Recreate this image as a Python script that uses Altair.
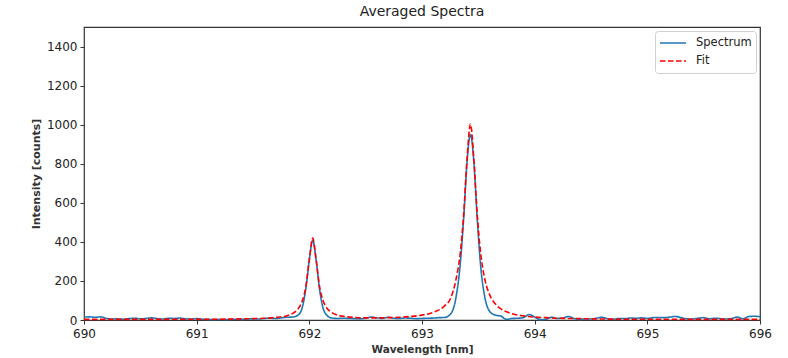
import altair as alt
import pandas as pd

# ---- data ----
spec_wl = [
    690.00, 690.05, 690.10, 690.15, 690.20, 690.25, 690.30, 690.35, 690.40, 690.45,
    690.50, 690.55, 690.60, 690.65, 690.70, 690.75, 690.80, 690.85, 690.90, 690.95,
    691.00, 691.05, 691.10, 691.15, 691.20, 691.25, 691.30, 691.35, 691.40, 691.45,
    691.50, 691.55, 691.60, 691.65, 691.70, 691.75, 691.80, 691.85, 691.90, 691.94,
    691.97, 692.00, 692.03, 692.06, 692.09, 692.12, 692.16, 692.20, 692.25, 692.30,
    692.35, 692.40, 692.45, 692.50, 692.55, 692.60, 692.65, 692.70, 692.75, 692.80,
    692.85, 692.90, 692.95, 693.00, 693.05, 693.10, 693.15, 693.20, 693.25, 693.30,
    693.34, 693.37, 693.40, 693.43, 693.46, 693.49, 693.52, 693.56, 693.60, 693.65,
    693.70, 693.75, 693.80, 693.85, 693.90, 693.95, 694.00, 694.05, 694.10, 694.15,
    694.20, 694.25, 694.30, 694.35, 694.40, 694.45, 694.50, 694.55, 694.60, 694.65,
    694.70, 694.75, 694.80, 694.85, 694.90, 694.95, 695.00, 695.05, 695.10, 695.15,
    695.20, 695.25, 695.30, 695.35, 695.40, 695.45, 695.50, 695.55, 695.60, 695.65,
    695.70, 695.75, 695.80, 695.85, 695.90, 695.95, 696.00,
]
spec_counts = [
    15, 16, 14, 16, 8, 5, 6, 4, 7, 9,
    6, 8, 11, 7, 5, 9, 8, 10, 6, 5,
    7, 4, 3, 2, 3, 2, 3, 4, 3, 5,
    6, 5, 8, 9, 8, 11, 14, 15, 25, 70,
    165, 310, 408, 310, 160, 65, 22, 10, 8, 9,
    8, 7, 6, 9, 15, 11, 8, 14, 9, 8,
    10, 9, 7, 8, 9, 10, 12, 13, 28, 110,
    290, 520, 810, 950, 810, 520, 280, 110, 45, 25,
    20, 3, 8, 9, 12, 28, 15, 2, 4, 14,
    8, 10, 18, 7, 3, 6, 5, 9, 14, 6,
    4, 8, 7, 10, 9, 11, 8, 12, 13, 12,
    15, 18, 12, 6, 5, 9, 12, 6, 9, 7,
    5, 8, 15, 6, 18, 19, 17,
]

fit_wl = [
    690.0, 690.5, 691.0, 691.2, 691.4, 691.5, 691.6, 691.7, 691.8, 691.85,
    691.9, 691.94, 691.97, 692.0, 692.03, 692.06, 692.09, 692.12, 692.16, 692.2,
    692.25, 692.3, 692.4, 692.5, 692.6, 692.7, 692.8, 692.9, 693.0, 693.1,
    693.2, 693.25, 693.3, 693.34, 693.37, 693.4, 693.43, 693.46, 693.49, 693.52,
    693.56, 693.6, 693.65, 693.7, 693.75, 693.8, 693.9, 694.0, 694.1, 694.2,
    694.3, 694.4, 694.5, 694.6, 694.8, 695.0, 695.5, 696.0,
]
fit_counts = [
    3, 3, 4, 4, 6, 7, 9, 13, 22, 33,
    57, 102, 174, 309, 419, 309, 174, 102, 58, 38,
    25, 19, 13, 11, 11, 12, 14, 18, 25, 39,
    72, 106, 203, 345, 543, 827, 1003, 827, 543, 346,
    203, 130, 83, 57, 42, 32, 21, 15, 12, 9,
    8, 7, 6, 5, 4, 4, 3, 3,
]

x_ticks = [690, 691, 692, 693, 694, 695, 696]
y_ticks = [0, 200, 400, 600, 800, 1000, 1200, 1400]

series_names = ["Spectrum", "Fit"]
series_colors = ["#1f77b4", "#ff0000"]

df = pd.concat([
    pd.DataFrame({"wl": spec_wl, "counts": spec_counts, "series": "Spectrum", "order": 0}),
    pd.DataFrame({"wl": fit_wl, "counts": fit_counts, "series": "Fit", "order": 1}),
])

font = "DejaVu Sans"

chart = alt.Chart(df).mark_line(interpolate="monotone", strokeWidth=1.6).encode(
    x=alt.X("wl:Q", title="Wavelength [nm]",
            scale=alt.Scale(domain=[690, 696], nice=False, zero=False),
            axis=alt.Axis(values=x_ticks, format="d", labelFlush=False,
                          labelPadding=4, titlePadding=5, titleFontSize=10.5)),
    y=alt.Y("counts:Q", title="Intensity [counts]",
            scale=alt.Scale(domain=[0, 1500], nice=False),
            axis=alt.Axis(values=y_ticks, format="d", labelFlush=False,
                          labelPadding=3, titlePadding=5)),
    color=alt.Color("series:N", title=None,
                    scale=alt.Scale(domain=series_names, range=series_colors),
                    sort=series_names),
    strokeDash=alt.StrokeDash("series:N", title=None,
                              scale=alt.Scale(domain=series_names, range=[[1, 0], [5.5, 2.5]]),
                              sort=series_names),
    detail="series:N",
    order="order:Q",
).properties(
    width=676,
    height=293,
    title=alt.TitleParams("Averaged Spectra", font=font, fontSize=14, fontWeight="normal",
                          color="#222", anchor="middle", offset=8),
    autosize=alt.AutoSizeParams(type="none"),
    padding={"left": 84, "top": 27, "right": 28, "bottom": 38},
).configure_view(
    stroke="#333", strokeWidth=1.2
).configure_axis(
    grid=False, domain=False, labelFont=font, labelFontSize=12, labelColor="#222",
    titleFont=font, titleFontSize=11, titleFontWeight="bold", titleColor="#333",
    tickColor="#333", tickSize=4,
).configure_legend(
    orient="top-right", offset=4, symbolType="stroke", symbolSize=676,
    symbolStrokeWidth=1.6, labelFont=font, labelFontSize=11.5, labelColor="#222",
    strokeColor="#d0d0d0", fillColor="white", padding=4, cornerRadius=3,
    rowPadding=2, clipHeight=16, labelOffset=9,
)

chart.save("out.html", embed_options={"renderer": "svg", "actions": False})
